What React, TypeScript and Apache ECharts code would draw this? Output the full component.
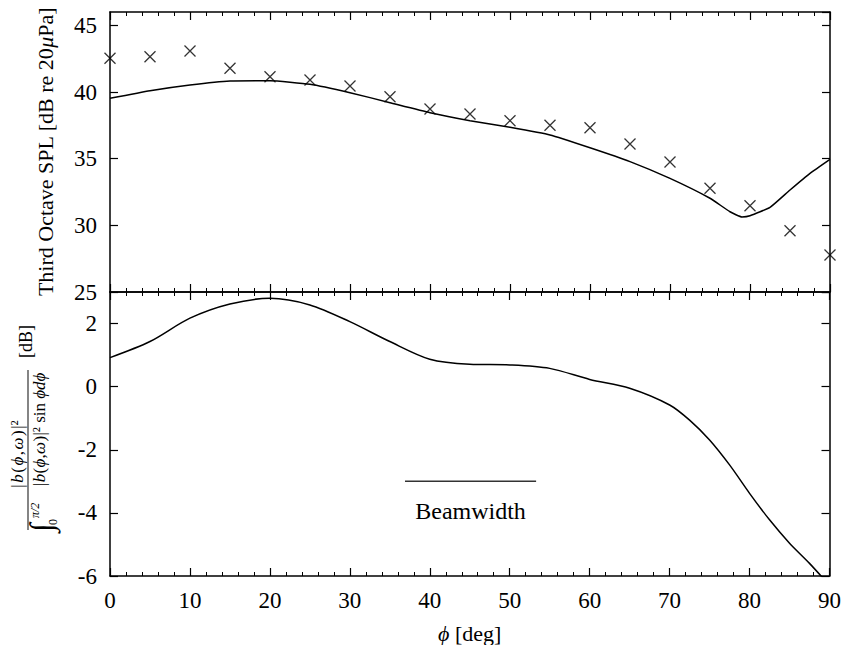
import React, { useEffect, useRef } from "react";
import * as echarts from "echarts";

// Top panel: third octave SPL
const phiModel = [0, 5, 10, 15, 20, 25, 30, 35, 40, 45, 50, 55, 60, 65, 70, 75, 77.5, 79, 80, 82.5, 85, 87.5, 90];
const splModel = [39.53, 40.1, 40.53, 40.83, 40.85, 40.58, 39.95, 39.2, 38.45, 37.85, 37.35, 36.78, 35.82, 34.78, 33.52, 32.03, 31.02, 30.63, 30.72, 31.35, 32.65, 33.9, 34.95];
const phiMeas = [0, 5, 10, 15, 20, 25, 30, 35, 40, 45, 50, 55, 60, 65, 70, 75, 80, 85, 90];
const splMeas = [42.53, 42.65, 43.08, 41.78, 41.15, 40.9, 40.45, 39.65, 38.72, 38.35, 37.85, 37.5, 37.32, 36.1, 34.75, 32.78, 31.47, 29.6, 27.78];

// Bottom panel: normalised directivity
const phiDir = [0, 5, 10, 15, 20, 25, 30, 35, 40, 45, 50, 55, 60, 65, 70, 72.5, 75, 77.5, 80, 82.5, 85, 87.5, 90];
const dirDb = [0.92, 1.43, 2.17, 2.62, 2.8, 2.59, 2.06, 1.43, 0.87, 0.71, 0.69, 0.58, 0.23, -0.05, -0.58, -1.06, -1.69, -2.48, -3.38, -4.22, -4.96, -5.6, -6.3];

// Beamwidth marker
const beamPhi = [36.9, 53.3];
const beamLevel = -3;
const beamText = "Beamwidth";

// Formula pieces of the bottom y-axis title: [text, italic]
const numerParts: [string, boolean][] = [["|", false], ["b", true], ["(", false], ["ϕ", true], [",", false], ["ω", true], [")", false], ["|²", false]];
const denomParts: [string, boolean][] = [["|", false], ["b", true], ["(", false], ["ϕ", true], [",", false], ["ω", true], [")", false], ["|² sin", false], ["ϕdϕ", true]];

const FAM = "'Liberation Serif', 'Times New Roman', serif";
const f = (size: number, italic = false) => `${italic ? "italic " : ""}${size}px ${FAM}`;

let measureCtx: CanvasRenderingContext2D | null = null;
const measure = (t: string, font: string) => {
  if (!measureCtx) measureCtx = document.createElement("canvas").getContext("2d");
  if (!measureCtx) return t.length * 8;
  measureCtx.font = font;
  return measureCtx.measureText(t).width;
};

const layoutParts = (parts: [string, boolean][], size: number, gap: number, startX: number | null, centerX: number, y: number, vAlign: string) => {
  const widths = parts.map(([t, it]) => measure(t, f(size, it)) + gap + (t.endsWith("sin") ? 4 : 0));
  const total = widths.reduce((a, b) => a + b, 0) - gap;
  let x = startX == null ? centerX - total / 2 : startX;
  return parts.map(([t, it], i) => {
    const el = {
      type: "text",
      x,
      y,
      style: { text: t, font: f(size, it), fill: "#000", align: "left", verticalAlign: vAlign },
    };
    x += widths[i];
    return el;
  });
};

export default function App() {
  const ref = useRef<HTMLDivElement>(null);
  useEffect(() => {
    if (!ref.current) return;
    const chart = echarts.init(ref.current, null, { renderer: "svg" });

    const baseX = (gridIndex: number, position: "top" | "bottom", labels: boolean, extra: any = {}) => ({
      type: "value",
      gridIndex,
      position,
      min: 0,
      max: 90,
      interval: 10,
      axisLine: { show: true, onZero: false, lineStyle: { color: "#000", width: 1.5 } },
      axisTick: { show: true, inside: true, length: 8, lineStyle: { color: "#000", width: 1.2 } },
      minorTick: { show: true, splitNumber: 5, length: 4, lineStyle: { color: "#000", width: 1 } },
      splitLine: { show: false },
      minorSplitLine: { show: false },
      axisLabel: { show: labels, margin: 13, color: "#000", fontFamily: FAM, fontSize: 23 },
      ...extra,
    });
    const baseY = (gridIndex: number, position: "left" | "right", min: number, max: number, interval: number, labels: boolean, extra: any = {}) => ({
      type: "value",
      gridIndex,
      position,
      min,
      max,
      interval,
      axisLine: { show: true, onZero: false, lineStyle: { color: "#000", width: 1.5 } },
      axisTick: { show: true, inside: true, length: 8, lineStyle: { color: "#000", width: 1.2 } },
      splitLine: { show: false },
      axisLabel: { show: labels, margin: 13, color: "#000", fontFamily: FAM, fontSize: 23, showMaxLabel: false },
      ...extra,
    });

    chart.setOption({
      animation: false,
      backgroundColor: "#fff",
      grid: [
        { left: 110, top: 12, width: 720, height: 280, show: false },
        { left: 110, top: 292, width: 720, height: 284, show: false },
      ],
      xAxis: [
        baseX(0, "bottom", false),
        baseX(0, "top", false),
        baseX(1, "bottom", true, {
          name: "{i|ϕ} [deg]",
          nameLocation: "middle",
          nameGap: 46,
          nameTextStyle: { color: "#000", fontFamily: FAM, fontSize: 22, rich: { i: { fontStyle: "italic", fontFamily: FAM, fontSize: 22, color: "#000" } } },
        }),
        baseX(1, "top", false),
      ],
      yAxis: [
        baseY(0, "left", 25, 46, 5, true, {
          name: "Third Octave SPL [dB re 20{i|μ}Pa]",
          nameLocation: "middle",
          nameGap: 54,
          nameTextStyle: { color: "#000", fontFamily: FAM, fontSize: 22, rich: { i: { fontStyle: "italic", fontFamily: FAM, fontSize: 22, color: "#000" } } },
        }),
        baseY(0, "right", 25, 46, 5, false),
        baseY(1, "left", -6, 3, 2, true),
        baseY(1, "right", -6, 3, 2, false),
      ],
      series: [
        {
          type: "line",
          xAxisIndex: 0,
          yAxisIndex: 0,
          data: phiModel.map((p, i) => [p, splModel[i]]),
          showSymbol: false,
          symbol: "none",
          lineStyle: { color: "#000", width: 1.5 },
          smooth: 0.15,
        },
        {
          type: "scatter",
          xAxisIndex: 0,
          yAxisIndex: 0,
          data: phiMeas.map((p, i) => [p, splMeas[i]]),
          symbol: "path://M0,0L10,10M10,0L0,10",
          symbolSize: 11,
          itemStyle: { color: "transparent", borderColor: "#000", borderWidth: 1.3 },
          clip: false,
        },
        {
          type: "line",
          xAxisIndex: 2,
          yAxisIndex: 2,
          data: phiDir.map((p, i) => [p, dirDb[i]]),
          showSymbol: false,
          symbol: "none",
          smooth: 0.3,
          clip: true,
          lineStyle: { color: "#000", width: 1.5 },
        },
        {
          type: "line",
          xAxisIndex: 2,
          yAxisIndex: 2,
          data: beamPhi.map((p) => [p, beamLevel]),
          showSymbol: false,
          symbol: "none",
          lineStyle: { color: "#333", width: 1.5 },
        },
      ],
    });

    const mid = chart.convertToPixel({ xAxisIndex: 2, yAxisIndex: 2 } as any, [(beamPhi[0] + beamPhi[1]) / 2, beamLevel]) as number[];

    const S = 17;
    chart.setOption({
      graphic: [
        {
          type: "text",
          x: mid[0],
          y: mid[1] + 30,
          style: { text: beamText, font: f(24), fill: "#000", align: "center", verticalAlign: "middle" },
        },
        {
          type: "group",
          x: 28,
          y: 450,
          rotation: Math.PI / 2,
          children: [
            { type: "line", shape: { x1: -80, y1: 0, x2: 80, y2: 0 }, style: { stroke: "#333", lineWidth: 1.2 } },
            ...layoutParts(numerParts, S, 1.5, null, -4, -2, "bottom"),
            {
              type: "text",
              x: -82,
              y: -3,
              style: { text: "∫", font: f(32), fill: "#000", align: "left", verticalAlign: "top" },
            },
            {
              type: "text",
              x: -68,
              y: 1,
              style: { text: "π/2", font: f(12, true), fill: "#000", align: "left", verticalAlign: "top" },
            },
            {
              type: "text",
              x: -75,
              y: 19,
              style: { text: "0", font: f(12), fill: "#000", align: "left", verticalAlign: "top" },
            },
            ...layoutParts(denomParts, S, 0.3, -36, 0, 3, "top"),
            {
              type: "text",
              x: 92,
              y: -2,
              style: { text: "[dB]", font: f(18), fill: "#000", align: "left", verticalAlign: "middle" },
            },
          ],
        },
      ],
    });

    return () => chart.dispose();
  }, []);
  return <div ref={ref} style={{ position: "fixed", left: 0, top: 0, width: 844, height: 645 }} />;
}
